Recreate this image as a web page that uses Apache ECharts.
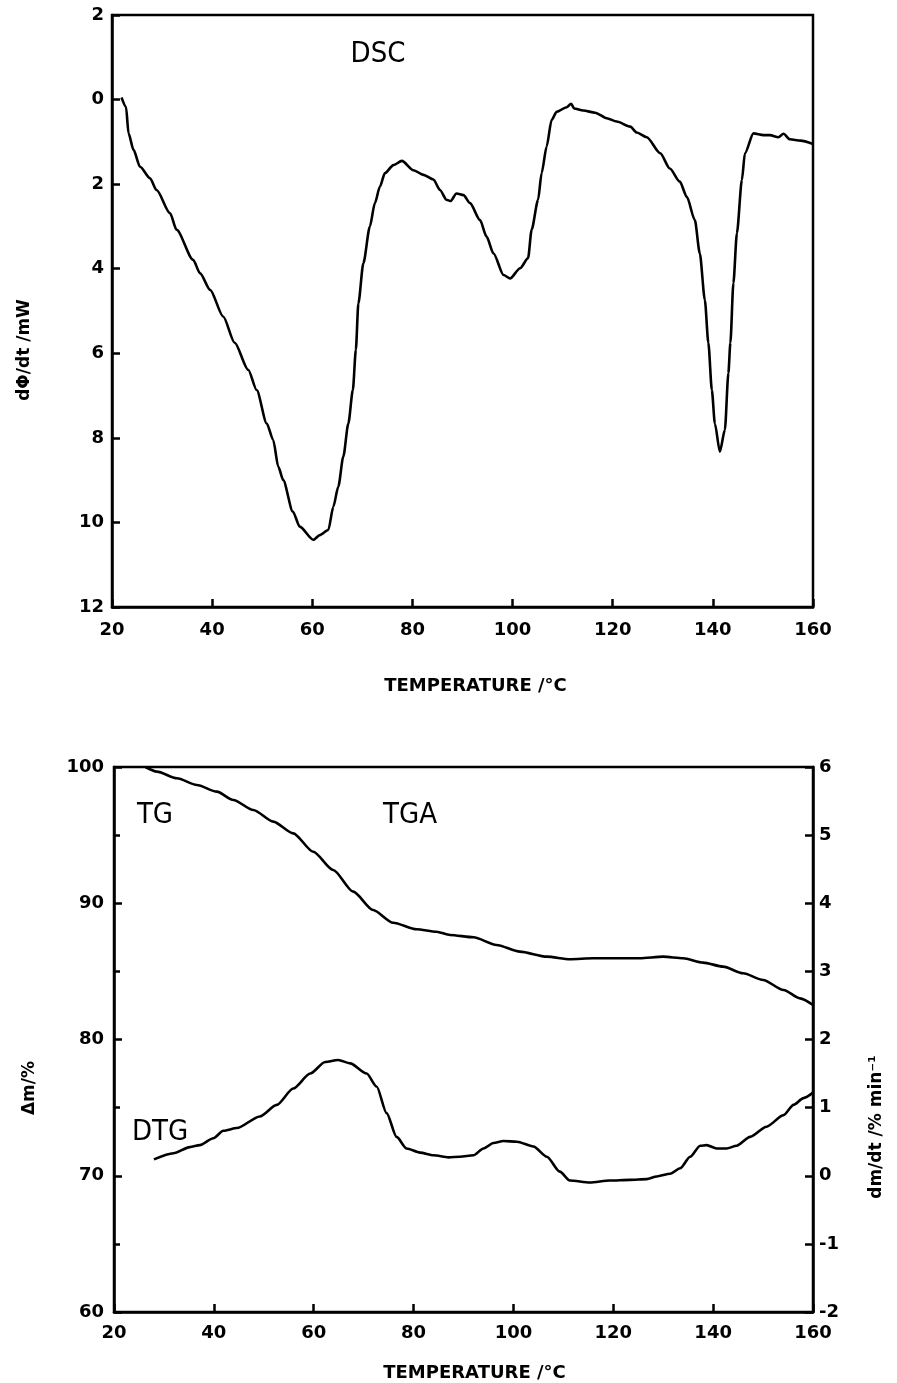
<!DOCTYPE html>
<html>
<head>
<meta charset="utf-8">
<script src="https://cdn.jsdelivr.net/npm/echarts@6/dist/echarts.min.js"></script>
<style>
html,body{margin:0;padding:0;background:#fff;}
#chart{width:897px;height:1383px;}
</style>
</head>
<body>
<div id="chart"></div>
<script>
// ---- DSC (top panel) ----
const dscTemp = [21.9, 22.8, 23.3, 24.3, 25.6, 27.6, 28.9, 31.6, 32.9, 36.2, 37.6, 39.6, 42.2, 44.5, 47.2, 48.9, 50.9, 52.2, 53.2, 54.2, 56.1, 57.5, 60.2, 61.5, 63.2, 64.2, 65.2, 66.2, 67.2, 68.1, 68.7, 69.2, 70.2, 71.5, 72.5, 73.5, 74.5, 76.2, 77.9, 80.2, 82.2, 84.2, 85.5, 86.8, 87.6, 88.8, 90.2, 91.5, 93.5, 94.8, 96.2, 98.2, 99.5, 101.5, 103.1, 103.8, 105.1, 105.8, 106.8, 107.8, 108.8, 110.8, 111.7, 112.3, 114.1, 116.5, 118.8, 120.8, 123.5, 124.8, 126.8, 129.5, 131.4, 133.4, 134.8, 136.4, 137.4, 138.4, 139.1, 139.8, 140.4, 141.4, 142.4, 143.1, 143.5, 144.1, 144.8, 145.8, 146.4, 148.1, 150.1, 151.4, 153.1, 154.1, 155.4, 157.5, 160.0];
const dscValue = [-0.05, 0.17, 0.80, 1.19, 1.59, 1.86, 2.14, 2.69, 3.08, 3.79, 4.11, 4.50, 5.13, 5.75, 6.39, 6.87, 7.66, 8.05, 8.68, 9.00, 9.74, 10.10, 10.41, 10.30, 10.18, 9.63, 9.15, 8.44, 7.66, 6.87, 5.92, 4.82, 3.87, 3.00, 2.45, 2.06, 1.74, 1.55, 1.45, 1.67, 1.78, 1.89, 2.14, 2.37, 2.40, 2.22, 2.26, 2.45, 2.85, 3.24, 3.64, 4.15, 4.23, 3.99, 3.75, 3.08, 2.37, 1.74, 1.11, 0.48, 0.29, 0.18, 0.10, 0.21, 0.26, 0.31, 0.44, 0.52, 0.64, 0.78, 0.89, 1.27, 1.63, 1.94, 2.30, 2.85, 3.64, 4.74, 5.75, 6.87, 7.66, 8.33, 7.81, 6.47, 5.75, 4.34, 3.16, 1.90, 1.27, 0.80, 0.84, 0.84, 0.89, 0.81, 0.94, 0.97, 1.05];

// ---- TG (bottom panel, left axis) ----
const tgTemp = [26.3, 28.6, 32.6, 36.6, 40.6, 43.9, 47.9, 51.9, 55.9, 59.9, 63.9, 67.9, 71.9, 75.9, 80.6, 84.6, 87.3, 92.0, 96.6, 101.3, 106.7, 111.3, 116.0, 120.7, 125.3, 130.0, 134.0, 138.0, 142.0, 146.0, 150.0, 154.1, 157.4, 160.0];
const tgValue = [100, 99.66, 99.17, 98.68, 98.19, 97.58, 96.84, 95.99, 95.13, 93.78, 92.44, 90.85, 89.50, 88.57, 88.09, 87.91, 87.67, 87.50, 86.94, 86.45, 86.08, 85.89, 85.96, 85.96, 85.96, 86.08, 85.96, 85.64, 85.35, 84.86, 84.37, 83.63, 83.02, 82.53];

// ---- DTG (bottom panel, right axis) ----
const dtgTemp = [28.0, 31.9, 35.2, 37.2, 39.9, 41.9, 44.6, 49.2, 52.6, 55.9, 59.3, 62.3, 64.9, 67.3, 70.6, 72.6, 74.6, 76.6, 78.6, 81.3, 84.0, 87.0, 89.3, 92.0, 94.0, 96.0, 98.0, 100.7, 104.0, 106.7, 109.3, 111.3, 115.3, 119.3, 123.3, 126.7, 128.7, 131.4, 133.4, 135.4, 137.4, 138.7, 140.7, 142.7, 144.7, 147.4, 150.7, 154.1, 156.1, 158.1, 160.0];
const dtgValue = [0.24, 0.33, 0.42, 0.45, 0.55, 0.66, 0.70, 0.87, 1.04, 1.28, 1.50, 1.67, 1.70, 1.65, 1.50, 1.31, 0.92, 0.57, 0.40, 0.34, 0.30, 0.27, 0.28, 0.30, 0.40, 0.48, 0.51, 0.50, 0.43, 0.28, 0.06, -0.07, -0.10, -0.07, -0.06, -0.05, -0.01, 0.03, 0.11, 0.28, 0.44, 0.45, 0.40, 0.40, 0.44, 0.57, 0.72, 0.89, 1.04, 1.14, 1.22];

// ---- axis ranges [min, max, interval] ----
const tempAxis = [20, 160, 20];
const dscAxis = [-2, 12, 2];
const tgAxis = [60, 100, 10];
const dtgAxis = [-2, 6, 1];

// ---- texts ----
const xName = 'TEMPERATURE /°C';
const dscName = 'dΦ/dt /mW';
const tgName = 'Δm/%';
const dtgName = 'dm/dt /% min⁻¹';
const panelLabels = ['DSC', 'TG', 'TGA', 'DTG'];

const zip = (a, b) => a.map((v, i) => [v, b[i]]);

const tickFont = {color: '#000', fontFamily: 'DejaVu Sans', fontWeight: 'bold', fontSize: 18};
const nameFont = {color: '#000', fontFamily: 'DejaVu Sans', fontWeight: 'bold', fontSize: 18};
const axisLine = {show: true, onZero: false, lineStyle: {color: '#000', width: 2.5}};
const tick = {show: true, inside: true, length: 8, lineStyle: {color: '#000', width: 2.5}};
const annot = {fill: '#000', fontFamily: 'Liberation Sans Narrow, DejaVu Sans Condensed, sans-serif', fontSize: 29, textAlign: 'center', textVerticalAlign: 'middle'};
const yNameStyle = {fill: '#000', fontFamily: 'DejaVu Sans', fontWeight: 'bold', fontSize: 17, textAlign: 'center', textVerticalAlign: 'middle'};
const lineCommon = {showSymbol: false, lineStyle: {color: '#000', width: 2.6}, smooth: 0.25, smoothMonotone: 'x'};

const chart = echarts.init(document.getElementById('chart'), null, {renderer: 'canvas'});
chart.setOption({
  backgroundColor: '#fff',
  animation: false,
  grid: [
    {left: 112, top: 15, width: 701, height: 592, show: true, borderColor: '#000', borderWidth: 2.5, backgroundColor: 'transparent'},
    {left: 114, top: 767, width: 699, height: 545, show: true, borderColor: '#000', borderWidth: 2.5, backgroundColor: 'transparent'}
  ],
  xAxis: [
    {gridIndex: 0, type: 'value', min: tempAxis[0], max: tempAxis[1], interval: tempAxis[2],
     axisLine: axisLine, axisTick: tick, splitLine: {show: false},
     axisLabel: Object.assign({margin: 14}, tickFont),
     name: xName, nameLocation: 'middle', nameGap: 70, nameTextStyle: Object.assign({padding: [0, 0, 0, 26]}, nameFont)},
    {gridIndex: 1, type: 'value', min: tempAxis[0], max: tempAxis[1], interval: tempAxis[2],
     axisLine: axisLine, axisTick: tick, splitLine: {show: false},
     axisLabel: Object.assign({margin: 12}, tickFont),
     name: xName, nameLocation: 'middle', nameGap: 52, nameTextStyle: Object.assign({padding: [0, 0, 0, 22]}, nameFont)}
  ],
  yAxis: [
    {gridIndex: 0, type: 'value', inverse: true, min: dscAxis[0], max: dscAxis[1], interval: dscAxis[2],
     axisLine: axisLine, axisTick: tick, splitLine: {show: false},
     axisLabel: Object.assign({margin: 8, formatter: v => String(Math.abs(v))}, tickFont)},
    {gridIndex: 1, type: 'value', position: 'left', min: tgAxis[0], max: tgAxis[1], interval: tgAxis[2],
     axisLine: axisLine, axisTick: tick, splitLine: {show: false},
     minorTick: {show: true, splitNumber: 2, length: 6, lineStyle: {color: '#000', width: 2.5}},
     axisLabel: Object.assign({margin: 10}, tickFont)},
    {gridIndex: 1, type: 'value', position: 'right', min: dtgAxis[0], max: dtgAxis[1], interval: dtgAxis[2],
     axisLine: axisLine, axisTick: tick, splitLine: {show: false},
     axisLabel: Object.assign({margin: 6}, tickFont)}
  ],
  series: [
    Object.assign({name: 'DSC', type: 'line', xAxisIndex: 0, yAxisIndex: 0, data: zip(dscTemp, dscValue)}, lineCommon),
    Object.assign({name: 'TG', type: 'line', xAxisIndex: 1, yAxisIndex: 1, data: zip(tgTemp, tgValue)}, lineCommon),
    Object.assign({name: 'DTG', type: 'line', xAxisIndex: 1, yAxisIndex: 2, data: zip(dtgTemp, dtgValue)}, lineCommon)
  ],
  graphic: [
    {type: 'text', style: Object.assign({x: 378, y: 54, text: panelLabels[0]}, annot)},
    {type: 'text', style: Object.assign({x: 155, y: 815, text: panelLabels[1]}, annot)},
    {type: 'text', style: Object.assign({x: 410, y: 815, text: panelLabels[2]}, annot)},
    {type: 'text', style: Object.assign({x: 160, y: 1132, text: panelLabels[3]}, annot)},
    {type: 'text', x: 25, y: 350, rotation: Math.PI / 2, style: Object.assign({x: 0, y: 0, text: dscName}, yNameStyle)},
    {type: 'text', x: 30, y: 1088, rotation: Math.PI / 2, style: Object.assign({x: 0, y: 0, text: tgName}, yNameStyle)},
    {type: 'text', x: 877, y: 1127, rotation: Math.PI / 2, style: Object.assign({x: 0, y: 0, text: dtgName, fontSize: 15}, yNameStyle)}
  ]
});
</script>
</body>
</html>
